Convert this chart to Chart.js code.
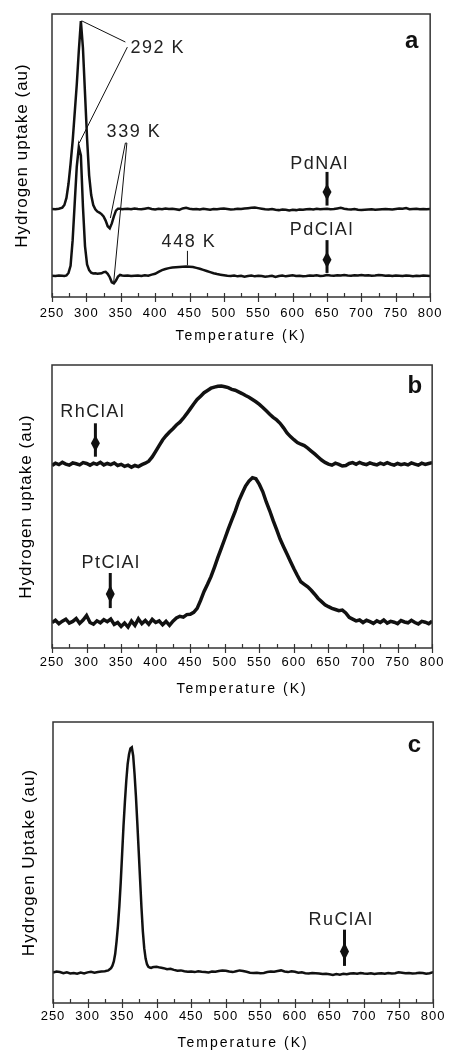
<!DOCTYPE html>
<html><head><meta charset="utf-8">
<script src="https://cdn.jsdelivr.net/npm/chart.js@4.4.1/dist/chart.umd.min.js"></script>
<style>
html,body{margin:0;padding:0;background:#fff;}
#wrap{position:relative;width:450px;height:1053px;overflow:hidden;}
canvas{position:absolute;left:0;}
</style></head><body>
<div id="wrap">
<canvas id="ca" width="450" height="345" style="top:0px"></canvas>
<canvas id="cb" width="450" height="355" style="top:345px"></canvas>
<canvas id="cc" width="450" height="353" style="top:700px"></canvas>
</div>
<script>
// ---------- data ----------
const xTickValues = [250,300,350,400,450,500,550,600,650,700,750,800];
const xMinorTicks = [275,325,375,425,475,525,575,625,675,725,775];

const tempsA = [250,255,260,265,268,271,274,277,280,283,286,289,292,295,298,301,304,307,310,313,316,319,322,325,328,331,334,337,340,343,346,349,352,355,
360,365,370,375,380,385,390,395,400,405,410,415,420,425,430,435,440,445,450,455,460,465,470,475,480,485,490,495,500,505,
510,515,520,525,530,535,540,545,550,555,560,565,570,575,580,585,590,595,600,605,610,615,620,625,630,635,640,645,650,655,
660,665,670,675,680,685,690,695,700,705,710,715,720,725,730,735,740,745,750,755,760,765,770,775,780,785,790,795,800];
const pdNAl = [31.1,31.0,31.2,31.6,32.5,35.0,40.0,47.0,55.0,65.0,75.0,87.0,97.5,88.0,72.0,56.0,43.0,36.0,32.5,31.0,30.2,29.8,29.3,28.5,27.0,25.0,24.3,26.0,28.5,30.5,31.2,31.2,31.0,31.1,
31.2,31.0,31.3,31.1,31.0,31.2,31.4,31.1,30.9,31.2,
31.0,31.3,31.1,31.2,31.0,30.8,31.3,31.5,31.2,31.0,
31.1,30.9,31.2,31.0,30.8,31.1,31.0,31.2,31.3,31.1,
30.9,31.0,31.2,31.1,31.3,31.4,31.5,31.6,31.4,31.2,
31.0,30.9,31.1,30.8,30.7,30.9,30.8,30.6,30.8,30.7,
30.9,30.8,31.0,31.1,30.9,31.2,31.0,31.1,31.2,31.0,
31.1,31.3,31.5,31.2,31.0,30.9,31.1,30.8,30.7,30.8,
30.9,31.0,30.8,30.9,31.0,31.1,31.0,30.9,31.1,31.3,
31.2,31.4,31.0,31.1,31.2,31.0,31.1,31.0,31.1];
const pdClAl = [7.5,7.4,7.6,7.5,7.4,7.6,8.5,11.0,20.0,33.0,46.0,53.0,50.0,32.0,18.0,11.5,9.5,8.6,8.3,8.4,8.2,8.3,8.4,8.8,8.9,8.2,7.0,5.2,4.8,5.8,7.2,7.8,7.6,7.5,
7.6,7.4,7.5,7.6,7.4,7.7,7.5,7.9,8.2,8.9,
9.5,9.9,10.2,10.4,10.5,10.6,10.7,10.8,10.7,10.6,
10.3,10.0,9.6,9.2,8.8,8.4,8.1,7.9,7.7,7.5,
7.4,7.6,7.3,7.5,7.2,7.4,7.6,7.3,7.5,7.4,
7.2,7.3,7.5,7.1,7.4,7.6,7.3,7.5,7.7,7.4,
7.5,7.3,7.4,7.6,7.5,7.7,7.4,7.5,7.8,7.6,
7.5,7.7,7.6,7.8,7.6,7.5,7.7,7.6,7.8,7.6,
7.7,7.5,7.6,7.8,7.7,7.5,7.6,7.4,7.6,7.5,
7.4,7.6,7.5,7.3,7.5,7.4,7.6,7.5,7.4];

const tempsB = [250,255,260,265,270,275,280,285,290,295,300,305,310,315,320,325,330,335,340,345,
350,355,360,365,370,375,380,385,390,395,400,405,410,415,420,425,430,435,440,445,
450,455,460,465,470,475,480,485,490,495,500,505,510,515,520,525,530,535,540,545,
550,555,560,565,570,575,580,585,590,595,600,605,610,615,620,625,630,635,640,645,
650,655,660,665,670,675,680,685,690,695,700,705,710,715,720,725,730,735,740,745,
750,755,760,765,770,775,780,785,790,795,800];
const rhClAl = [64.5,65.3,64.8,65.6,65.0,64.6,65.4,65.1,64.7,65.5,
65.2,64.6,65.3,64.9,65.6,64.7,65.2,64.8,65.4,64.5,
64.9,64.2,64.6,63.9,64.5,64.1,64.8,65.3,66.0,67.5,
69.5,71.5,73.5,75.0,76.3,77.5,78.8,79.8,81.2,82.8,
84.5,86.2,87.8,89.0,90.2,91.0,91.8,92.2,92.5,92.6,
92.3,92.0,91.4,91.1,90.5,89.9,89.2,88.6,87.8,87.0,
86.1,85.0,83.8,82.6,81.5,80.6,79.4,77.8,76.0,74.7,
73.6,72.6,72.0,71.5,70.6,69.6,68.6,67.5,66.4,65.6,
65.0,64.6,65.3,64.9,64.3,64.5,65.2,65.5,64.9,65.6,
65.1,64.8,65.4,65.0,64.7,65.3,64.9,65.5,65.0,64.6,
65.2,64.8,65.1,64.7,65.4,65.0,64.6,65.3,64.9,65.2,65.5];
const ptClAl = [9.0,9.8,8.6,9.5,10.2,8.8,9.4,10.4,8.7,9.9,
11.5,9.0,8.4,9.6,8.9,10.0,9.3,10.2,8.3,9.0,
7.6,8.8,7.4,9.5,8.0,10.3,8.6,9.7,8.4,10.1,
9.0,9.6,8.2,9.4,8.0,9.5,10.6,11.2,10.9,11.8,
11.9,12.6,14.0,16.8,20.0,22.5,25.2,28.5,32.0,35.3,
38.6,42.0,45.2,48.3,51.8,54.6,57.2,59.0,60.2,59.8,
57.8,55.2,51.6,48.5,45.0,41.8,38.5,35.8,33.2,30.6,
28.0,25.6,23.4,22.5,21.6,20.4,19.0,17.5,16.4,15.3,
14.6,14.0,13.6,13.2,13.4,12.4,10.8,10.2,9.6,9.9,
9.0,9.8,9.3,8.7,9.6,9.0,9.9,8.8,9.4,9.1,
8.6,9.7,9.2,8.9,9.8,9.0,8.5,9.4,9.1,8.6,9.5];

const tempsC = [250,255,260,265,270,275,280,285,290,295,300,305,310,315,320,325,330,
332,334,336,338,340,342,344,346,348,350,352,354,356,358,360,362,364,366,368,370,372,374,376,378,380,382,384,386,388,390,392,394,396,
400,405,410,415,420,425,430,435,440,445,450,455,460,465,470,475,480,485,490,495,500,505,510,515,520,525,530,535,540,545,
550,555,560,565,570,575,580,585,590,595,600,605,610,615,620,625,630,635,640,645,650,655,660,665,670,675,680,685,690,695,
700,705,710,715,720,725,730,735,740,745,750,755,760,765,770,775,780,785,790,795,800];
const ruClAl = [10.8,11.2,11.0,10.6,10.9,10.5,10.7,10.4,10.8,10.5,10.9,11.1,10.8,11.0,11.2,11.3,11.6,
12.0,12.4,13.3,14.8,17.5,22.0,27.5,34.5,43.0,53.0,63.0,71.5,79.0,85.0,88.5,90.6,91.0,88.0,81.5,73.5,64.0,54.0,44.0,34.0,25.5,19.5,15.8,13.8,12.9,12.6,12.5,12.7,12.8,
12.9,12.6,12.4,12.0,12.2,11.8,11.5,11.6,11.3,11.1,
11.2,11.0,11.3,11.1,11.0,10.9,11.2,11.1,11.4,11.6,
11.5,11.2,11.0,11.3,11.6,11.4,11.1,10.8,10.7,10.8,
10.6,10.7,11.0,11.2,11.1,11.4,11.6,11.2,11.0,11.3,
11.1,10.8,10.9,10.6,10.5,10.7,10.6,10.5,10.3,10.4,
10.2,10.0,10.3,10.1,10.4,10.2,10.5,10.6,10.4,10.7,
10.5,10.4,10.6,10.3,10.5,10.6,10.4,10.7,10.5,10.6,
10.9,10.8,10.6,10.7,10.5,10.6,10.8,10.7,10.4,10.6,
11.0];

// annotations (data coordinates: [K, value])
const annoA = {
  texts: [['292 K',403.9,86.1,'n'],['339 K',369.1,56.6,'n'],['448 K',449.1,17.8,'n'],['PdNAl',639,45.2,'n'],['PdClAl',642.5,21.9,'n'],['a',773,87.9,'b']],
  lines: [[293,97.6,356.7,90.1],[359.6,88.3,289.6,54.4],[356.7,54.4,334.9,27.9],[358.9,54.4,339.6,4.9],[356.7,54.4,358.9,54.4],[447,16.3,447,11.2]],
  arrows: [[650,44.2,32.3],[650,20.1,8.5]]
};
const annoB = {
  texts: [['RhClAl',308.9,81.8,'n'],['PtClAl',335.3,28.2,'n'],['b',775,90.0,'b']],
  lines: [],
  arrows: [[312.8,79.4,67.6],[334.3,26.5,14.1]]
};
const annoC = {
  texts: [['RuClAl',666.8,27.9,'n'],['c',773,89.5,'b']],
  lines: [],
  arrows: [[671.7,26.1,13.2]]
};

// ---------- drawing ----------
const FONT = '"Liberation Sans", Arial, Helvetica, sans-serif';
const INK = '#111';

const decor = {
  id: 'decor',
  beforeDraw(chart) {
    const o = chart.options.plugins.decor;
    for (const id of ['x','y']) {
      const s = chart.scales[id];
      if (!s || s.__wrapped) continue;
      s.__wrapped = true;
      const ot = s.drawTitle, ol = s.drawLabels;
      const sp = o.spacing[id];
      s.drawTitle = function(...a){ const c=this.ctx; c.save(); c.letterSpacing = sp.title; ot.apply(this,a); c.restore(); };
      s.drawLabels = function(...a){ const c=this.ctx; c.save(); c.letterSpacing = sp.labels; ol.apply(this,a); c.restore(); };
    }
  },
  afterDraw(chart) {
    const {ctx, chartArea: ca, scales: {x, y}} = chart;
    const o = chart.options.plugins.decor;
    ctx.save();
    ctx.strokeStyle = '#333';
    ctx.lineWidth = 1.2;
    for (const v of xMinorTicks) {
      const px = Math.round(x.getPixelForValue(v)) + 0.5;
      ctx.beginPath(); ctx.moveTo(px, ca.bottom); ctx.lineTo(px, ca.bottom - 4); ctx.stroke();
    }
    for (const v of xTickValues) {
      const px = Math.round(x.getPixelForValue(v)) + 0.5;
      ctx.beginPath(); ctx.moveTo(px, ca.bottom - 4); ctx.lineTo(px, ca.bottom + 5); ctx.stroke();
    }
    ctx.lineWidth = 1.5;
    ctx.strokeRect(ca.left, ca.top, ca.right - ca.left, ca.bottom - ca.top);

    ctx.strokeStyle = INK; ctx.lineWidth = 1;
    for (const l of o.anno.lines) {
      ctx.beginPath();
      ctx.moveTo(x.getPixelForValue(l[0]), y.getPixelForValue(l[1]));
      ctx.lineTo(x.getPixelForValue(l[2]), y.getPixelForValue(l[3]));
      ctx.stroke();
    }
    ctx.fillStyle = INK;
    for (const a of o.anno.arrows) {
      const px = x.getPixelForValue(a[0]), y1 = y.getPixelForValue(a[1]), y2 = y.getPixelForValue(a[2]);
      const L = y2 - y1, cy = y1 + L * 0.6;
      ctx.lineWidth = 3;
      ctx.beginPath(); ctx.moveTo(px, y1); ctx.lineTo(px, y2); ctx.stroke();
      ctx.beginPath();
      ctx.moveTo(px, cy - L * 0.25); ctx.lineTo(px + 4.5, cy); ctx.lineTo(px, cy + L * 0.25); ctx.lineTo(px - 4.5, cy);
      ctx.closePath(); ctx.fill();
    }
    ctx.textAlign = 'center'; ctx.textBaseline = 'alphabetic';
    for (const t of o.anno.texts) {
      if (t[3] === 'b') { ctx.font = 'bold 24px ' + FONT; ctx.letterSpacing = '0px'; ctx.fillStyle = '#111'; }
      else { ctx.font = '18px ' + FONT; ctx.letterSpacing = '1.5px'; ctx.fillStyle = '#222'; }
      ctx.fillText(t[0], x.getPixelForValue(t[1]), y.getPixelForValue(t[2]));
    }
    ctx.restore();
  }
};

function pts(ts, vs) { return ts.map((t, i) => ({x: t, y: vs[i]})); }

function makeChart(id, cfg) {
  return new Chart(document.getElementById(id), {
    type: 'line',
    data: { datasets: cfg.series.map(s => ({
      data: pts(s[0], s[1]), borderColor: INK, borderWidth: cfg.lw, pointRadius: 0, tension: 0, fill: false
    })) },
    options: {
      responsive: false, animation: false, events: [],
      layout: { autoPadding: false, padding: { top: cfg.top, right: cfg.right, left: 0, bottom: 0 } },
      plugins: { legend: { display: false }, tooltip: { enabled: false },
        decor: { anno: cfg.anno, spacing: { x: { labels: '1px', title: '2px' }, y: { labels: '0px', title: '1px' } } } },
      scales: {
        x: {
          type: 'linear', min: 250, max: 800,
          afterBuildTicks: s => { s.ticks = xTickValues.map(v => ({ value: v })); },
          grid: { display: false, drawTicks: false }, border: { display: false },
          ticks: { color: '#000', font: { family: FONT, size: 13 }, padding: cfg.tickPad, maxRotation: 0, autoSkip: false },
          title: { display: true, text: 'Temperature (K)', color: '#000', font: { family: FONT, size: 14 }, padding: { top: 0, bottom: cfg.titlePad } },
          afterFit: s => { s.height = cfg.xh; }
        },
        y: {
          min: 0, max: 100,
          ticks: { display: false },
          grid: { display: false, drawTicks: false }, border: { display: false },
          title: { display: true, text: cfg.ytitle, color: '#000', font: { family: FONT, size: 17 }, padding: { top: cfg.yPad, bottom: 0 } },
          afterFit: s => { s.width = cfg.yw; }
        }
      }
    },
    plugins: [decor]
  });
}

makeChart('ca', { series: [[tempsA, pdNAl], [tempsA, pdClAl]], lw: 2.5, top: 14, right: 13, xh: 48, yw: 52,
  tickPad: 9, titlePad: 0, yPad: 12, ytitle: 'Hydrogen uptake (au)', anno: annoA });
makeChart('cb', { series: [[tempsB, rhClAl], [tempsB, ptClAl]], lw: 3.5, top: 20, right: 15, xh: 52, yw: 52,
  tickPad: 7, titlePad: 2, yPad: 16, ytitle: 'Hydrogen uptake (au)', anno: annoB });
makeChart('cc', { series: [[tempsC, ruClAl]], lw: 2.5, top: 22, right: 14, xh: 50, yw: 53,
  tickPad: 6, titlePad: 1, yPad: 19, ytitle: 'Hydrogen Uptake (au)', anno: annoC });
</script>
</body></html>
